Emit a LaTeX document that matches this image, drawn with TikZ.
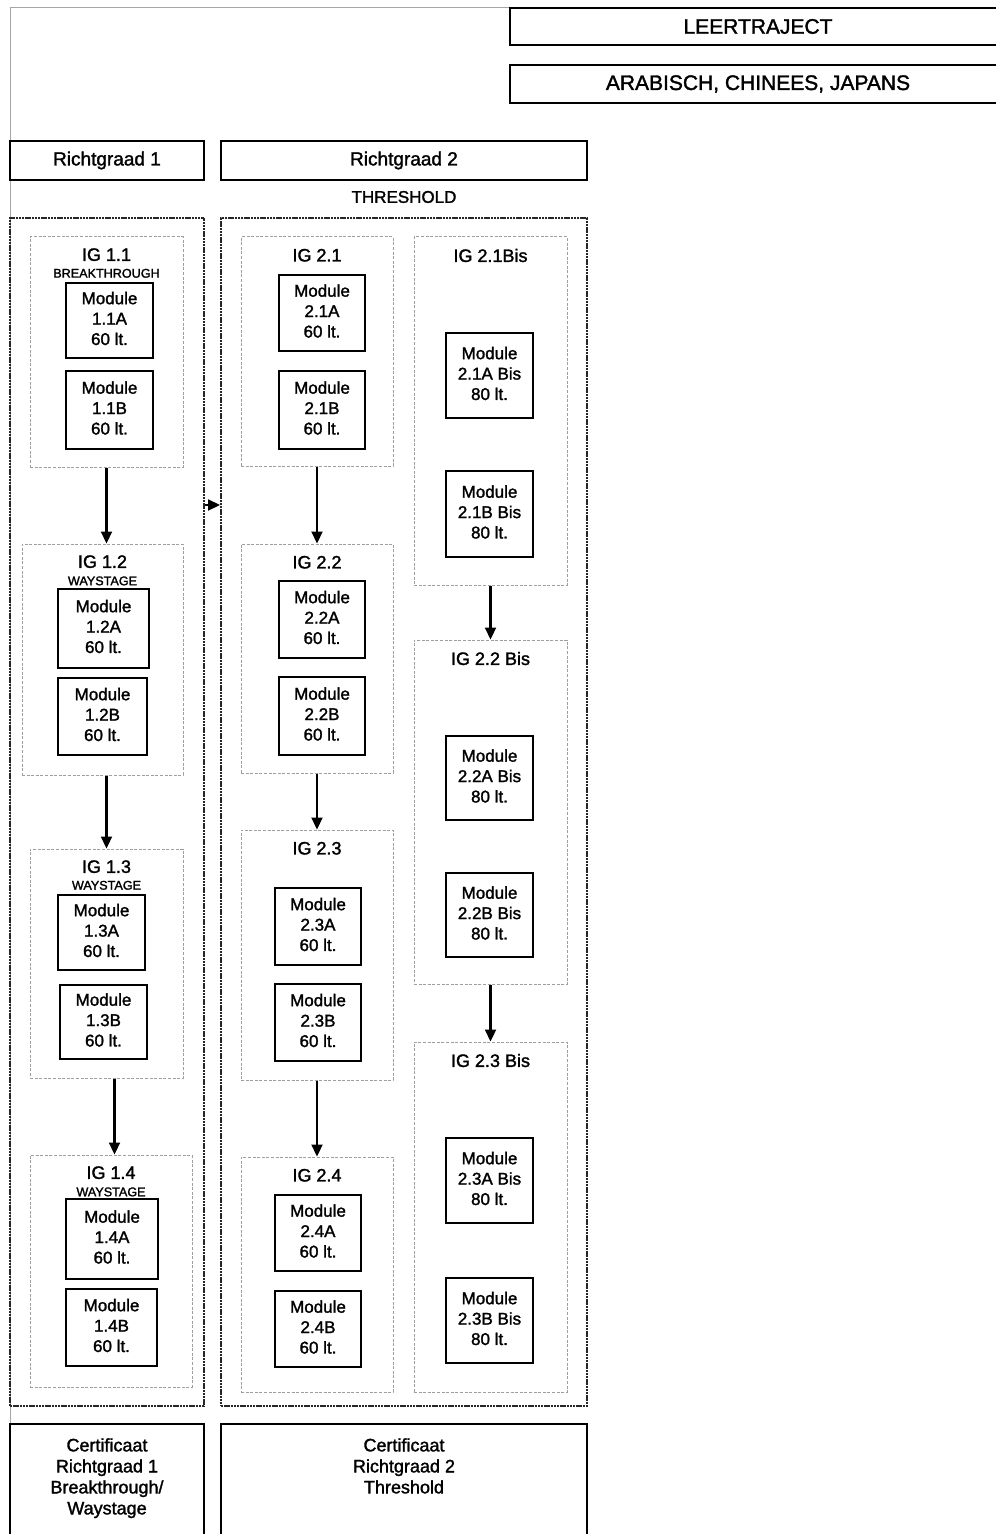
\documentclass[tikz,border=0pt]{standalone}
\usepackage{fontspec}
\setmainfont{Liberation Sans}[BoldFont={Liberation Sans},BoldFeatures={FakeBold=1.6}]
\usetikzlibrary{arrows.meta,fit,positioning}

\tikzset{
  headbox/.style={draw, line width=1.1pt, inner sep=0pt},
  headtext/.style={inner sep=0pt, font=\bfseries\fontsize{10.5}{12}\selectfont},
  colbox/.style={draw=black!85, line width=1pt, dash pattern=on 1.2pt off 0.4pt, inner sep=0pt},
  igbox/.style={draw=gray!75, line width=0.5pt, dash pattern=on 1.5pt off 0.8pt, inner sep=0pt},
  modbox/.style={draw, line width=1.3pt, inner sep=0pt},
  modtext/.style={inner sep=0pt, yshift=1pt, align=center, font=\bfseries\fontsize{8.5}{10.2}\selectfont},
  igtitle/.style={inner sep=0pt, font=\bfseries\fontsize{9}{11}\selectfont},
  igsub/.style={inner sep=0pt, font=\bfseries\fontsize{6.3}{7}\selectfont},
  certtext/.style={inner sep=0pt, align=center, font=\bfseries\fontsize{9}{10.5}\selectfont},
  flow/.style={-{Triangle[length=6pt,width=5.5pt]}, line width=1.1pt}
}

\begin{document}
\begin{tikzpicture}[x=0.5pt, y=-0.5pt]
  \useasboundingbox (0,0) rectangle (995,1534);
  % outer frame
  \draw[gray!70, line width=0.5pt] (510,8) -| (10,1540);

  % headers
  \node[headbox, fit={(510,8) (1006,45)}] (traject) {};
  \node[headtext] at (traject) {LEERTRAJECT};
  \node[headbox, fit={(510,65) (1006,103)}] (talen) {};
  \node[headtext] at (talen) {ARABISCH, CHINEES, JAPANS};
  \node[headbox, fit={(10,141) (204,180)}] (rg1) {};
  \node[headtext, font=\bfseries\fontsize{9.5}{11}\selectfont] at (rg1) {Richtgraad 1};
  \node[headbox, fit={(221,141) (587,180)}] (rg2) {};
  \node[headtext, font=\bfseries\fontsize{9.5}{11}\selectfont] at (rg2) {Richtgraad 2};
  \node[headtext, font=\bfseries\fontsize{8.5}{10}\selectfont] (thr) at (404,197) {THRESHOLD};

  % columns
  \node[colbox, fit={(10,218) (204,1406)}] (col1) {};
  \node[colbox, fit={(221,218) (587,1406)}] (col2) {};
  \coordinate (mid) at (212,505);
  \draw[flow] (col1.east |- mid) -- (col2.west |- mid);

  % Richtgraad 1
  \node[igbox, fit={(30,237) (183,467)}] (ig11) {};
  \node[igtitle, below=5.7pt of ig11.north] (t11) {IG 1.1};
  \node[igsub, below=3.5pt of t11] {BREAKTHROUGH};
  \node[modbox, fit={(66,283) (153,358)}] (m11a) {};
  \node[modtext] at (m11a) {Module\\1.1A\\60 lt.};
  \node[modbox, fit={(66,371) (153,449)}] (m11b) {};
  \node[modtext] at (m11b) {Module\\1.1B\\60 lt.};

  \node[igbox, fit={(22,544) (183,775)}] (ig12) {};
  \node[igtitle, below=5.7pt of ig12.north] (t12) {IG 1.2};
  \node[igsub, below=3.8pt of t12] {WAYSTAGE};
  \node[modbox, fit={(58,589) (149,668)}] (m12a) {};
  \node[modtext] at (m12a) {Module\\1.2A\\60 lt.};
  \node[modbox, fit={(58,678) (147,755)}] (m12b) {};
  \node[modtext] at (m12b) {Module\\1.2B\\60 lt.};

  \node[igbox, fit={(30,849) (183,1078)}] (ig13) {};
  \node[igtitle, below=5.7pt of ig13.north] (t13) {IG 1.3};
  \node[igsub, below=3.5pt of t13] {WAYSTAGE};
  \node[modbox, fit={(58,895) (145,970)}] (m13a) {};
  \node[modtext] at (m13a) {Module\\1.3A\\60 lt.};
  \node[modbox, fit={(60,985) (147,1059)}] (m13b) {};
  \node[modtext] at (m13b) {Module\\1.3B\\60 lt.};

  \node[igbox, fit={(30,1155) (192,1387)}] (ig14) {};
  \node[igtitle, below=5.7pt of ig14.north] (t14) {IG 1.4};
  \node[igsub, below=3.8pt of t14] {WAYSTAGE};
  \node[modbox, fit={(66,1199) (158,1279)}] (m14a) {};
  \node[modtext] at (m14a) {Module\\1.4A\\60 lt.};
  \node[modbox, fit={(66,1289) (157,1366)}] (m14b) {};
  \node[modtext] at (m14b) {Module\\1.4B\\60 lt.};

  \draw[flow] (ig11.south) -- (ig11.south |- ig12.north);
  \draw[flow] (ig12.south -| ig11.south) -- (ig11.south |- ig13.north);
  \draw[flow] ([xshift=4pt]ig13.south) -- ([xshift=4pt]ig13.south |- ig14.north);

  % Richtgraad 2
  \node[igbox, fit={(241,237) (393,466)}] (ig21) {};
  \node[igtitle, below=6pt of ig21.north] {IG 2.1};
  \node[modbox, fit={(279,275) (365,351)}] (m21a) {};
  \node[modtext] at (m21a) {Module\\2.1A\\60 lt.};
  \node[modbox, fit={(279,371) (365,449)}] (m21b) {};
  \node[modtext] at (m21b) {Module\\2.1B\\60 lt.};

  \node[igbox, fit={(241,544) (393,773)}] (ig22) {};
  \node[igtitle, below=6pt of ig22.north] {IG 2.2};
  \node[modbox, fit={(279,581) (365,658)}] (m22a) {};
  \node[modtext] at (m22a) {Module\\2.2A\\60 lt.};
  \node[modbox, fit={(279,677) (365,755)}] (m22b) {};
  \node[modtext] at (m22b) {Module\\2.2B\\60 lt.};

  \node[igbox, fit={(241,830) (393,1080)}] (ig23) {};
  \node[igtitle, below=6pt of ig23.north] {IG 2.3};
  \node[modbox, fit={(275,888) (361,965)}] (m23a) {};
  \node[modtext] at (m23a) {Module\\2.3A\\60 lt.};
  \node[modbox, fit={(275,984) (361,1061)}] (m23b) {};
  \node[modtext] at (m23b) {Module\\2.3B\\60 lt.};

  \node[igbox, fit={(241,1157) (393,1392)}] (ig24) {};
  \node[igtitle, below=6pt of ig24.north] {IG 2.4};
  \node[modbox, fit={(275,1195) (361,1271)}] (m24a) {};
  \node[modtext] at (m24a) {Module\\2.4A\\60 lt.};
  \node[modbox, fit={(275,1291) (361,1367)}] (m24b) {};
  \node[modtext] at (m24b) {Module\\2.4B\\60 lt.};

  \draw[flow] (ig21.south) -- (ig22.north);
  \draw[flow] (ig22.south) -- (ig23.north);
  \draw[flow] (ig23.south) -- (ig24.north);

  % Bis
  \node[igbox, fit={(414,237) (567,585)}] (ig21b) {};
  \node[igtitle, below=6pt of ig21b.north] {IG 2.1Bis};
  \node[modbox, fit={(446,333) (533,418)}] (m21ab) {};
  \node[modtext] at (m21ab) {Module\\2.1A Bis\\80 lt.};
  \node[modbox, fit={(446,471) (533,557)}] (m21bb) {};
  \node[modtext] at (m21bb) {Module\\2.1B Bis\\80 lt.};

  \node[igbox, fit={(414,640) (567,984)}] (ig22b) {};
  \node[igtitle, below=6pt of ig22b.north] {IG 2.2 Bis};
  \node[modbox, fit={(446,736) (533,820)}] (m22ab) {};
  \node[modtext] at (m22ab) {Module\\2.2A Bis\\80 lt.};
  \node[modbox, fit={(446,873) (533,957)}] (m22bb) {};
  \node[modtext] at (m22bb) {Module\\2.2B Bis\\80 lt.};

  \node[igbox, fit={(414,1042) (567,1392)}] (ig23b) {};
  \node[igtitle, below=6pt of ig23b.north] {IG 2.3 Bis};
  \node[modbox, fit={(446,1138) (533,1223)}] (m23ab) {};
  \node[modtext] at (m23ab) {Module\\2.3A Bis\\80 lt.};
  \node[modbox, fit={(446,1278) (533,1363)}] (m23bb) {};
  \node[modtext] at (m23bb) {Module\\2.3B Bis\\80 lt.};

  \draw[flow] (ig21b.south) -- (ig22b.north);
  \draw[flow] (ig22b.south) -- (ig23b.north);

  % certificates
  \node[headbox, fit={(10,1424) (204,1545)}] (cert1) {};
  \node[certtext, below=7.5pt of cert1.north] {Certificaat\\Richtgraad 1\\Breakthrough/\\Waystage};
  \node[headbox, fit={(221,1424) (587,1545)}] (cert2) {};
  \node[certtext, below=7.5pt of cert2.north] {Certificaat\\Richtgraad 2\\Threshold};
\end{tikzpicture}
\end{document}
